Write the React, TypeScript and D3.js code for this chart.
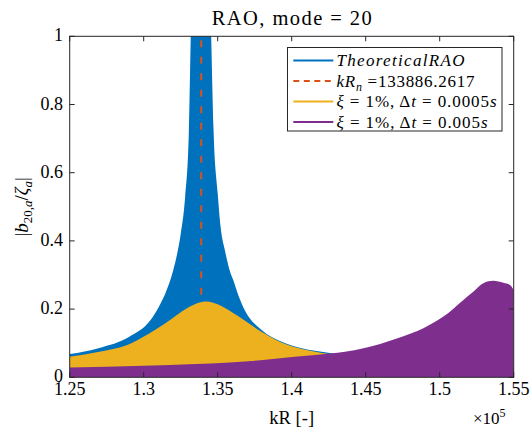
import React from "react";
import * as d3 from "d3";

// Wavenumber kR samples and envelope amplitudes |b_20,a / zeta_a| for each series
const kTheory = [125000, 127000, 129000, 130500, 131000, 131500, 132000, 132250, 132500, 132800, 133050, 133180, 133350, 133886, 134400, 134560, 134720, 135000, 135200, 135500, 135800, 136050, 136400, 136850, 137970, 139320, 140680, 142470, 145000, 150000, 155000];
const raoTheory = [0.068, 0.086, 0.118, 0.17, 0.205, 0.25, 0.315, 0.36, 0.42, 0.53, 0.72, 1.0, 1.3, 1.5, 1.3, 1.0, 0.725, 0.54, 0.44, 0.37, 0.315, 0.285, 0.24, 0.195, 0.139, 0.104, 0.085, 0.072, 0.055, 0.037, 0.028];

const kFine = [125000, 127000, 128850, 130400, 131100, 131780, 132900, 133350, 134200, 135000, 135700, 136500, 137900, 139300, 140700, 142500, 145000, 150000, 155000];
const raoFine = [0.06, 0.075, 0.094, 0.129, 0.148, 0.168, 0.202, 0.212, 0.222, 0.214, 0.198, 0.176, 0.135, 0.102, 0.083, 0.068, 0.05, 0.035, 0.028];

const kCoarse = [125000, 130000, 133500, 137900, 140200, 142600, 143600, 144850, 147100, 148900, 150250, 151600, 152270, 152950, 153620, 154300, 154750, 155000];
const raoCoarse = [0.029, 0.034, 0.039, 0.05, 0.06, 0.07, 0.075, 0.085, 0.114, 0.144, 0.178, 0.227, 0.251, 0.276, 0.283, 0.277, 0.271, 0.256];

const kResonance = 133886.2617;

const xTickValues = [125000, 130000, 135000, 140000, 145000, 150000, 155000];
const xTickLabels = ["1.25", "1.3", "1.35", "1.4", "1.45", "1.5", "1.55"];
const yTickValues = [0, 0.2, 0.4, 0.6, 0.8, 1];
const yTickLabels = ["0", "0.2", "0.4", "0.6", "0.8", "1"];

const BLUE = "#0072BD";
const ORANGE = "#D95319";
const YELLOW = "#EDB120";
const PURPLE = "#7E2F8E";
const AXIS = "#262626";
const FONT = "Liberation Serif";

export default function App() {
  const left = 69.7, right = 513.7, top = 36.3, bottom = 377.3;
  const x = d3.scaleLinear().domain([125000, 155000]).range([left, right]);
  const y = d3.scaleLinear().domain([0, 1]).range([bottom, top]);

  const area = (ks: number[], vs: number[]) =>
    d3
      .area<number>()
      .x((_, i) => x(ks[i]))
      .y0(y(0))
      .y1((v) => y(v))
      .curve(d3.curveMonotoneX)(vs) || "";

  const tickLen = 5;
  const txt = { fontFamily: FONT, fill: "#000" } as React.CSSProperties;

  const legendRows = [
    { color: BLUE, dash: undefined as string | undefined },
    { color: ORANGE, dash: "6,4.5" },
    { color: YELLOW, dash: undefined },
    { color: PURPLE, dash: undefined },
  ];
  const rowY = (i: number) => 60.5 + i * 20.5;

  return (
    <svg
      width={531}
      height={433}
      style={{ position: "absolute", left: 0, top: 0, background: "#fff" }}
    >
      <defs>
        <clipPath id="plotClip">
          <rect x={left} y={top} width={right - left} height={bottom - top} />
        </clipPath>
      </defs>

      {/* title */}
      <text
        x={(left + right) / 2 - 80}
        y={25}
        fontSize={20.5}
        textLength={160}
        lengthAdjust="spacing"
        style={txt}
      >
        RAO, mode = 20
      </text>

      <g clipPath="url(#plotClip)">
        <path d={area(kTheory, raoTheory)} fill={BLUE} />
        <line
          x1={x(kResonance)}
          x2={x(kResonance)}
          y1={y(0)}
          y2={y(1)}
          stroke={ORANGE}
          strokeWidth={2}
          strokeDasharray="7,9.5"
        />
        <path d={area(kFine, raoFine)} fill={YELLOW} />
        <path d={area(kCoarse, raoCoarse)} fill={PURPLE} />
      </g>

      {/* axes box */}
      <rect x={left} y={top} width={right - left} height={bottom - top} fill="none" stroke={AXIS} strokeWidth={1} />

      {/* x ticks */}
      {xTickValues.map((v, i) => (
        <g key={"x" + i}>
          <line x1={x(v)} x2={x(v)} y1={bottom} y2={bottom - tickLen} stroke={AXIS} />
          <line x1={x(v)} x2={x(v)} y1={top} y2={top + tickLen} stroke={AXIS} />
          <text x={x(v)} y={395} textAnchor="middle" fontSize={18} style={txt}>
            {xTickLabels[i]}
          </text>
        </g>
      ))}

      {/* y ticks */}
      {yTickValues.map((v, i) => (
        <g key={"y" + i}>
          <line x1={left} x2={left + tickLen} y1={y(v)} y2={y(v)} stroke={AXIS} />
          <line x1={right} x2={right - tickLen} y1={y(v)} y2={y(v)} stroke={AXIS} />
          <text x={63} y={y(v) + 5} textAnchor="end" fontSize={18} style={txt}>
            {yTickLabels[i]}
          </text>
        </g>
      ))}

      {/* axis labels */}
      <text x={(left + right) / 2} y={424} textAnchor="middle" fontSize={18.5} style={txt}>
        kR [-]
      </text>
      <text x={473} y={424} fontSize={17} style={txt}>
        ×10
        <tspan dy={-7} fontSize={12}>5</tspan>
      </text>
      <text transform={`translate(28, ${(top + bottom) / 2}) rotate(-90)`} textAnchor="middle" fontSize={19} style={txt}>
        |<tspan fontStyle="italic">b</tspan>
        <tspan dy={4} fontSize={13}>20,<tspan fontStyle="italic">a</tspan></tspan>
        <tspan dy={-4}>/</tspan>
        <tspan fontStyle="italic">ζ</tspan>
        <tspan dy={4} fontSize={13} fontStyle="italic">a</tspan>
        <tspan dy={-4}>|</tspan>
      </text>

      {/* legend */}
      <g>
        <rect x={287.5} y={47.5} width={214.5} height={83.5} fill="#fff" stroke={AXIS} strokeWidth={1} />
        {legendRows.map((e, i) => (
          <line
            key={"l" + i}
            x1={293.3}
            x2={333.3}
            y1={rowY(i)}
            y2={rowY(i)}
            stroke={e.color}
            strokeWidth={2}
            strokeDasharray={e.dash}
          />
        ))}
        <text x={336.5} y={rowY(0) + 5.5} fontSize={17} fontStyle="italic" textLength={128} lengthAdjust="spacing" style={txt}>
          TheoreticalRAO
        </text>
        <text x={336.5} y={rowY(1) + 5.5} fontSize={17} textLength={138} lengthAdjust="spacing" style={txt}>
          <tspan fontStyle="italic">kR</tspan>
          <tspan dy={4} fontSize={12} fontStyle="italic">n</tspan>
          <tspan dy={-4}> =133886.2617</tspan>
        </text>
        <text x={336.5} y={rowY(2) + 5.5} fontSize={17} textLength={160} lengthAdjust="spacing" style={txt}>
          <tspan fontStyle="italic">ξ</tspan> = 1%, Δ<tspan fontStyle="italic">t</tspan> = 0.0005<tspan fontStyle="italic">s</tspan>
        </text>
        <text x={336.5} y={rowY(3) + 5.5} fontSize={17} textLength={151} lengthAdjust="spacing" style={txt}>
          <tspan fontStyle="italic">ξ</tspan> = 1%, Δ<tspan fontStyle="italic">t</tspan> = 0.005<tspan fontStyle="italic">s</tspan>
        </text>
      </g>
    </svg>
  );
}
